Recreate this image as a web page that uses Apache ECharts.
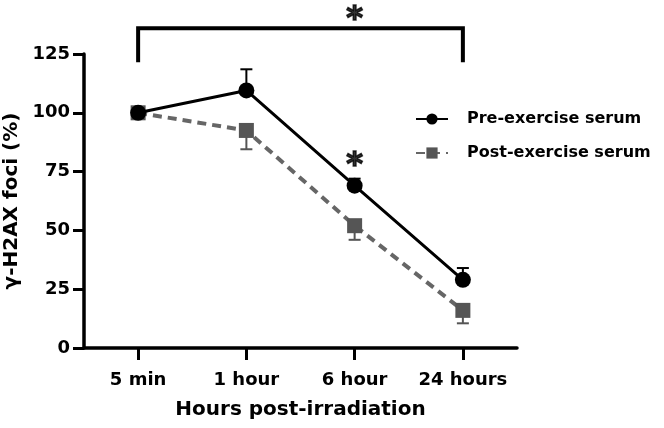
<!DOCTYPE html>
<html>
<head>
<meta charset="utf-8">
<script src="https://cdn.jsdelivr.net/npm/echarts@6/dist/echarts.min.js"></script>
<style>
  html, body { margin: 0; padding: 0; background: #fff; }
  #main { width: 664px; height: 428px; }
</style>
</head>
<body>
<div id="main"></div>
<script>
var categories = ['5 min', '1 hour', '6 hour', '24 hours'];
var preMean = [100, 109.5, 69, 29];
var preErr = [0, 9, 3, 5];
var postMean = [100, 92.5, 52, 16];
var postErr = [0, 8, 6, 5.5];
var yTicks = [0, 25, 50, 75, 100, 125];
// overall bracket (5 min -> 24 hours) and 6 hour asterisk
var bracketLow = 121.5, bracketHigh = 136, bracketStar = 139.5;
var starAt6h = 77.5;

var FONT = 'DejaVu Sans';
var myChart = echarts.init(document.getElementById('main'));

function errorBars(means, errs, dir, color) {
    var data = means.map(function (m, i) { return [i, m, m + dir * errs[i]]; });
    return {
        type: 'custom',
        silent: true,
        z: 1,
        data: data,
        renderItem: function (params, api) {
            var a = api.coord([api.value(0), api.value(1)]);
            var b = api.coord([api.value(0), api.value(2)]);
            if (Math.abs(a[1] - b[1]) < 1) return null;
            return {
                type: 'group',
                children: [
                    { type: 'line', shape: { x1: a[0], y1: a[1], x2: b[0], y2: b[1] }, style: { stroke: color, lineWidth: 2 } },
                    { type: 'line', shape: { x1: b[0] - 6, y1: b[1], x2: b[0] + 6, y2: b[1] }, style: { stroke: color, lineWidth: 2 } }
                ]
            };
        }
    };
}

var option = {
    animation: false,
    grid: { left: 84, right: 147, top: 54, bottom: 80, outerBoundsMode: 'none', containLabel: false },
    legend: {
        orient: 'vertical',
        left: 410,
        top: 106,
        itemWidth: 32,
        itemHeight: 14,
        itemGap: 18,
        textStyle: { fontFamily: FONT, fontWeight: 'bold', fontSize: 16, color: '#000', padding: [0, 0, 0, 14] },
        data: ['Pre-exercise serum', 'Post-exercise serum']
    },
    xAxis: {
        type: 'category',
        data: categories,
        boundaryGap: true,
        name: 'Hours post-irradiation',
        nameLocation: 'middle',
        nameGap: 52,
        nameTextStyle: { fontFamily: FONT, fontWeight: 'bold', fontSize: 20, color: '#000' },
        axisLine: { lineStyle: { color: '#000', width: 3.5 } },
        axisTick: { show: true, interval: 0, alignWithLabel: true, length: 12, lineStyle: { color: '#000', width: 3 } },
        axisLabel: { interval: 0, margin: 23, fontFamily: FONT, fontWeight: 'bold', fontSize: 18, color: '#000' },
        splitLine: { show: false }
    },
    yAxis: {
        type: 'value',
        min: yTicks[0],
        max: yTicks[yTicks.length - 1],
        interval: 25,
        name: 'γ-H2AX foci (%)',
        nameLocation: 'middle',
        nameGap: 60,
        nameTextStyle: { fontFamily: FONT, fontWeight: 'bold', fontSize: 20, color: '#000' },
        axisLine: { show: true, lineStyle: { color: '#000', width: 3.5 } },
        axisTick: { show: true, inside: false, length: 11, lineStyle: { color: '#000', width: 3 } },
        axisLabel: { margin: 14, fontFamily: FONT, fontWeight: 'bold', fontSize: 18, color: '#000' },
        splitLine: { show: false }
    },
    series: [
        errorBars(postMean, postErr, -1, '#555'),
        errorBars(preMean, preErr, 1, '#000'),
        {
            name: 'Post-exercise serum',
            type: 'line',
            data: postMean,
            z: 2,
            symbol: 'rect',
            symbolSize: 15,
            itemStyle: { color: '#555' },
            lineStyle: { color: '#666', width: 4, type: [9, 6] }
        },
        {
            name: 'Pre-exercise serum',
            type: 'line',
            data: preMean,
            z: 3,
            symbol: 'circle',
            symbolSize: 16,
            itemStyle: { color: '#000' },
            lineStyle: { color: '#000', width: 3 }
        },
        {
            type: 'line',
            silent: true,
            clip: false,
            symbol: 'none',
            data: [[0, bracketLow], [0, bracketHigh], [3, bracketHigh], [3, bracketLow]],
            lineStyle: { color: '#000', width: 4, join: 'miter' }
        },
        {
            type: 'scatter',
            silent: true,
            clip: false,
            symbolSize: 2,
            itemStyle: { color: 'rgba(0,0,0,0)' },
            data: [[1.5, bracketStar], [2, starAt6h]],
            label: {
                show: true,
                position: 'inside',
                formatter: '*',
                fontFamily: FONT,
                fontWeight: 'bold',
                fontSize: 32,
                color: '#000',
                textBorderColor: '#000',
                textBorderWidth: 1.5
            }
        }
    ]
};
option && myChart.setOption(option);
</script>
</body>
</html>
